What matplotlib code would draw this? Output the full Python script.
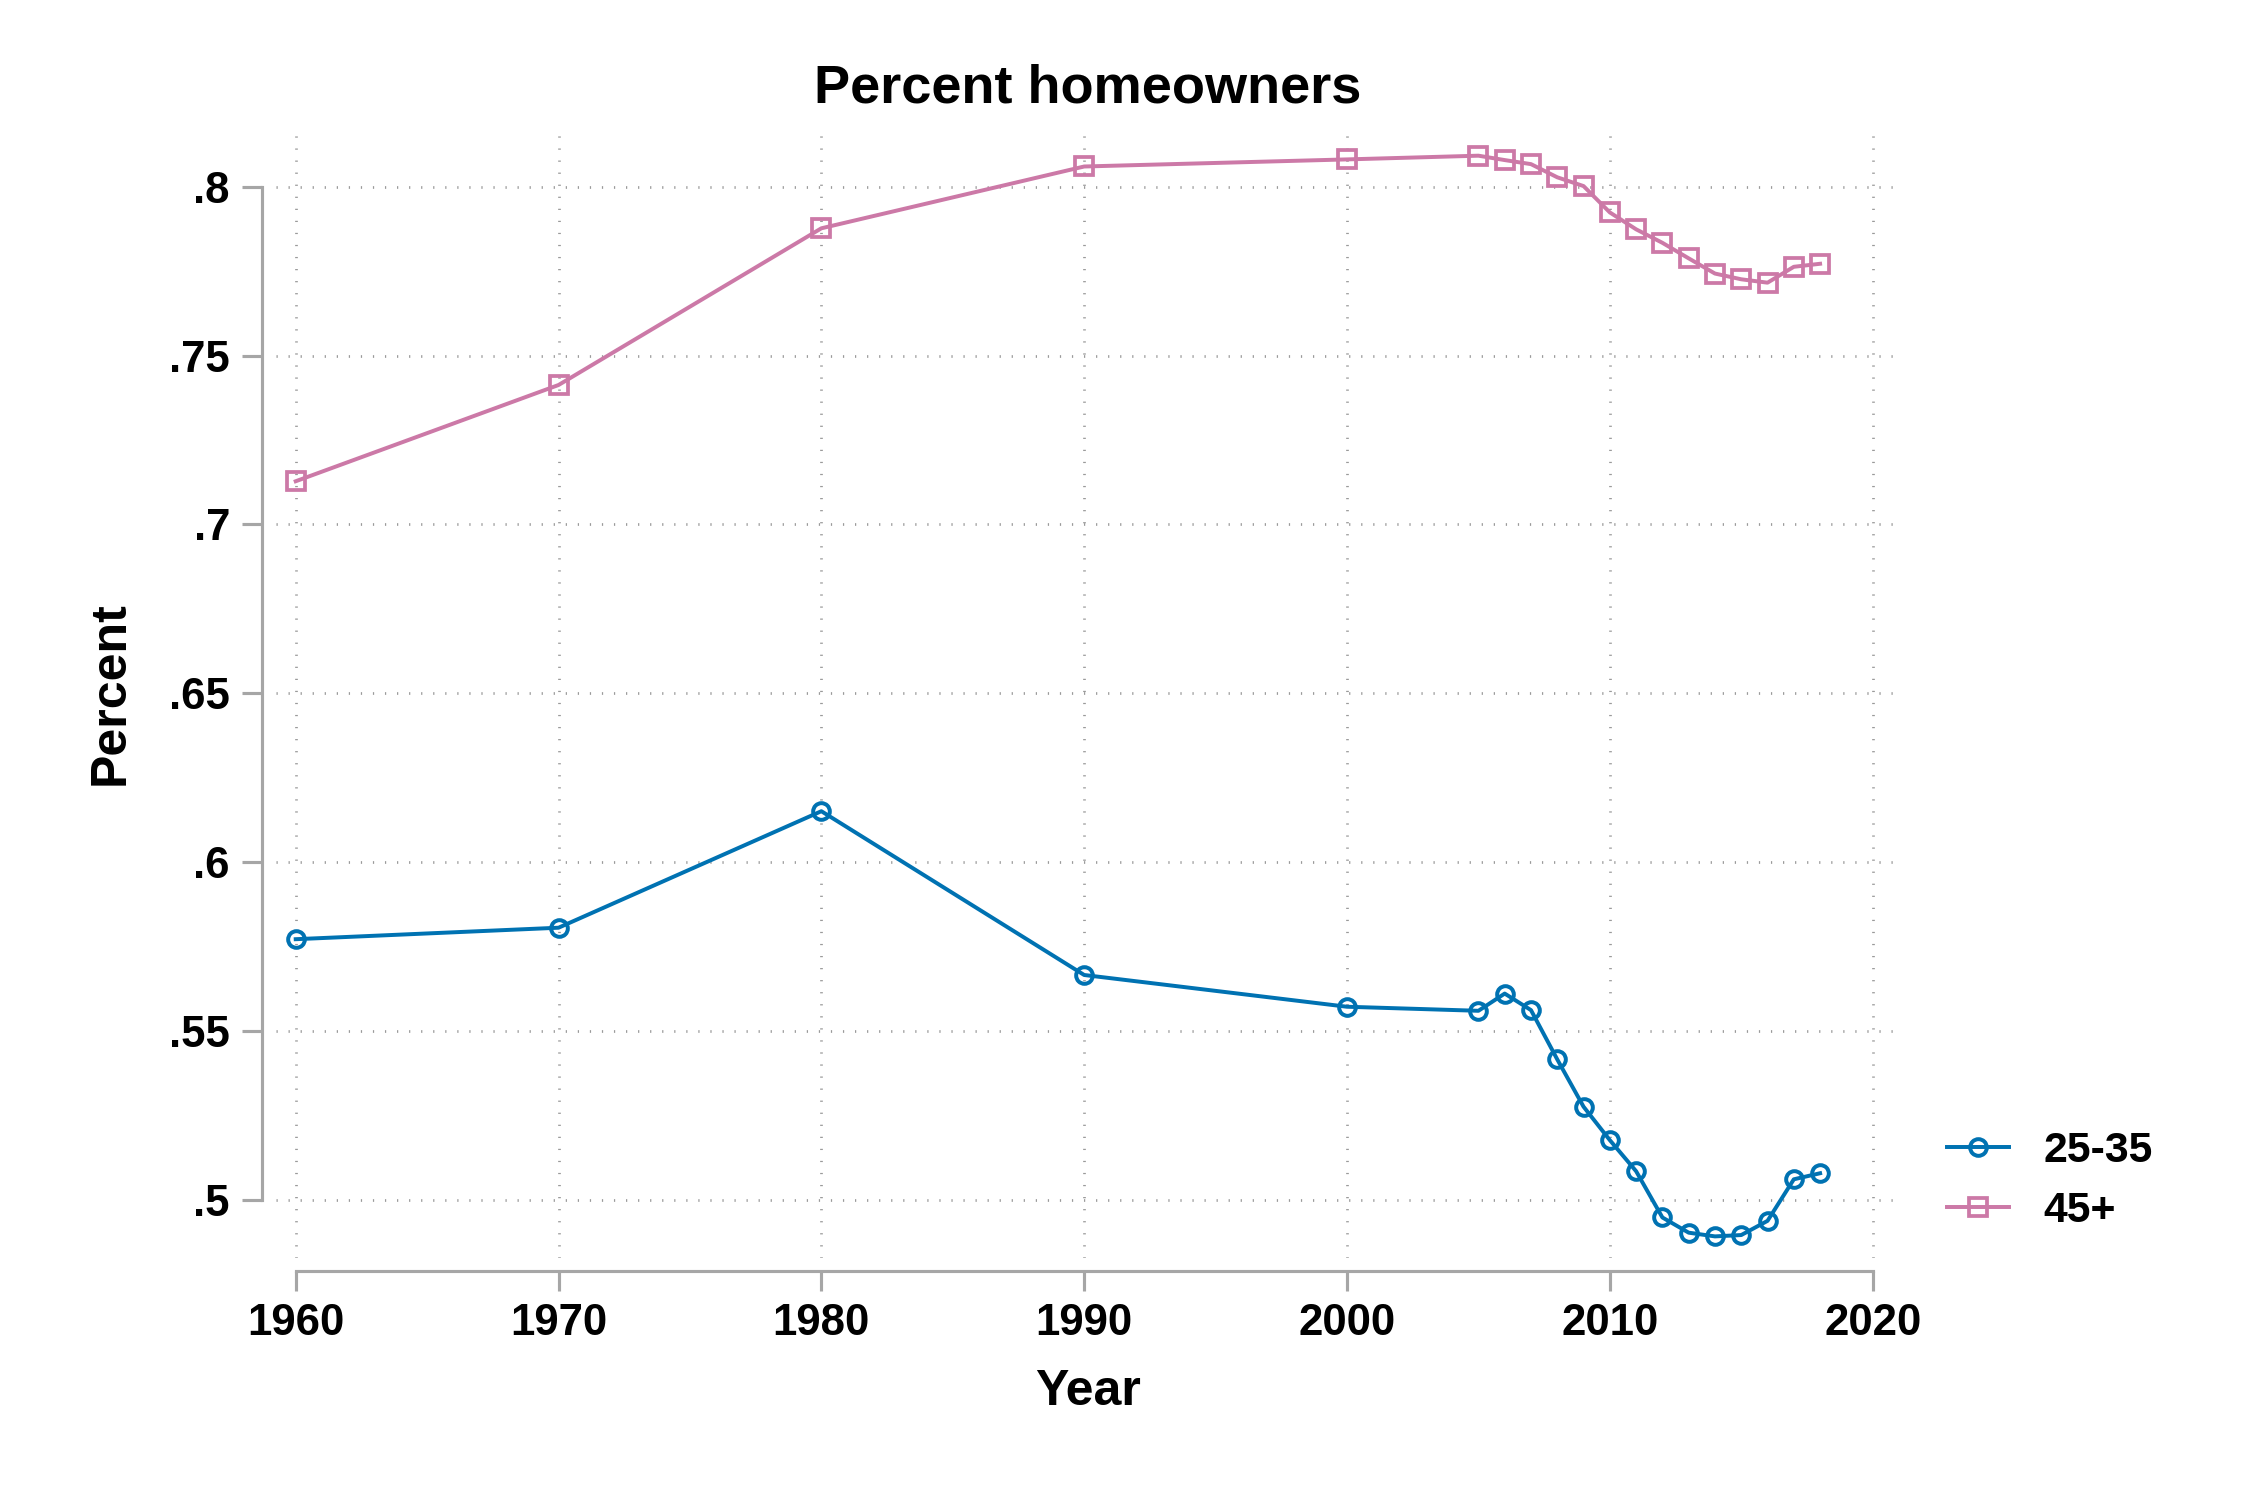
import matplotlib
matplotlib.use("Agg")
import matplotlib.pyplot as plt

# data
years = [1960, 1970, 1980, 1990, 2000, 2005, 2006, 2007, 2008, 2009,
         2010, 2011, 2012, 2013, 2014, 2015, 2016, 2017, 2018]
young = [0.5772, 0.5806, 0.6151, 0.5666, 0.5572, 0.5560, 0.5611, 0.5562, 0.5416, 0.5276,
         0.5177, 0.5085, 0.4948, 0.4903, 0.4892, 0.4896, 0.4938, 0.5061, 0.5079]
old = [0.7128, 0.7413, 0.7877, 0.8060, 0.8081, 0.8092, 0.8079, 0.8067, 0.8028, 0.8002,
       0.7924, 0.7874, 0.7834, 0.7788, 0.7743, 0.7726, 0.7716, 0.7763, 0.7772]
series_labels = ["25-35", "45+"]
xticks = [1960, 1970, 1980, 1990, 2000, 2010, 2020]
yticks = [0.5, 0.55, 0.6, 0.65, 0.7, 0.75, 0.8]
ytick_labels = [".5", ".55", ".6", ".65", ".7", ".75", ".8"]

plt.rcParams['font.family'] = ['Liberation Sans', 'DejaVu Sans']
plt.rcParams['font.weight'] = 'bold'

blue = '#0072B2'
pink = '#CC79A7'
axcol = '#a6a6a6'

fig = plt.figure(figsize=(15, 10), dpi=150)
ax = fig.add_axes([0.12267, 0.16133, 0.84444 - 0.12267, 0.91467 - 0.16133])

ax.plot(years, young, color=blue, lw=1.9, marker='o', ms=8, mfc='none',
        mec=blue, mew=1.9, label=series_labels[0], zorder=3)
ax.plot(years, old, color=pink, lw=1.9, marker='s', ms=8.5, mfc='none',
        mec=pink, mew=1.8, label=series_labels[1], zorder=3)

ax.set_xlim(1959.25, 2021.04)
ax.set_ylim(0.4828, 0.8174)
ax.set_xticks(xticks)
ax.set_yticks(yticks)
ax.set_yticklabels(ytick_labels)

ax.grid(True, color='#9a9a9a', lw=1.3, linestyle=(0, (0.45, 4.0)), zorder=0)

for s in ['top', 'right']:
    ax.spines[s].set_visible(False)
ax.spines['left'].set_position(('outward', 6.6))
ax.spines['bottom'].set_position(('outward', 6.1))
ax.spines['left'].set_bounds(0.5, 0.8)
ax.spines['bottom'].set_bounds(1960, 2020)
for s in ['left', 'bottom']:
    ax.spines[s].set_color(axcol)
    ax.spines[s].set_linewidth(1.5)

ax.tick_params(axis='both', length=9.5, width=1.5, color=axcol, labelsize=21, pad=6)

ax.set_title("Percent homeowners", fontsize=26, fontweight='bold', pad=12)
ax.set_xlabel("Year", fontsize=24, fontweight='bold')
ax.set_ylabel("Percent", fontsize=24, fontweight='bold')
ax.xaxis.set_label_coords(0.5, -0.0985)
ax.yaxis.set_label_coords(-0.0877, 0.5)

fig.legend(loc='center left', bbox_to_anchor=(0.8652, 0.2125), frameon=False,
           fontsize=20.5, handlelength=1.47, handletextpad=0.8, labelspacing=0.47,
           borderpad=0, borderaxespad=0)

fig.savefig("out.png", dpi=150, facecolor='white')
